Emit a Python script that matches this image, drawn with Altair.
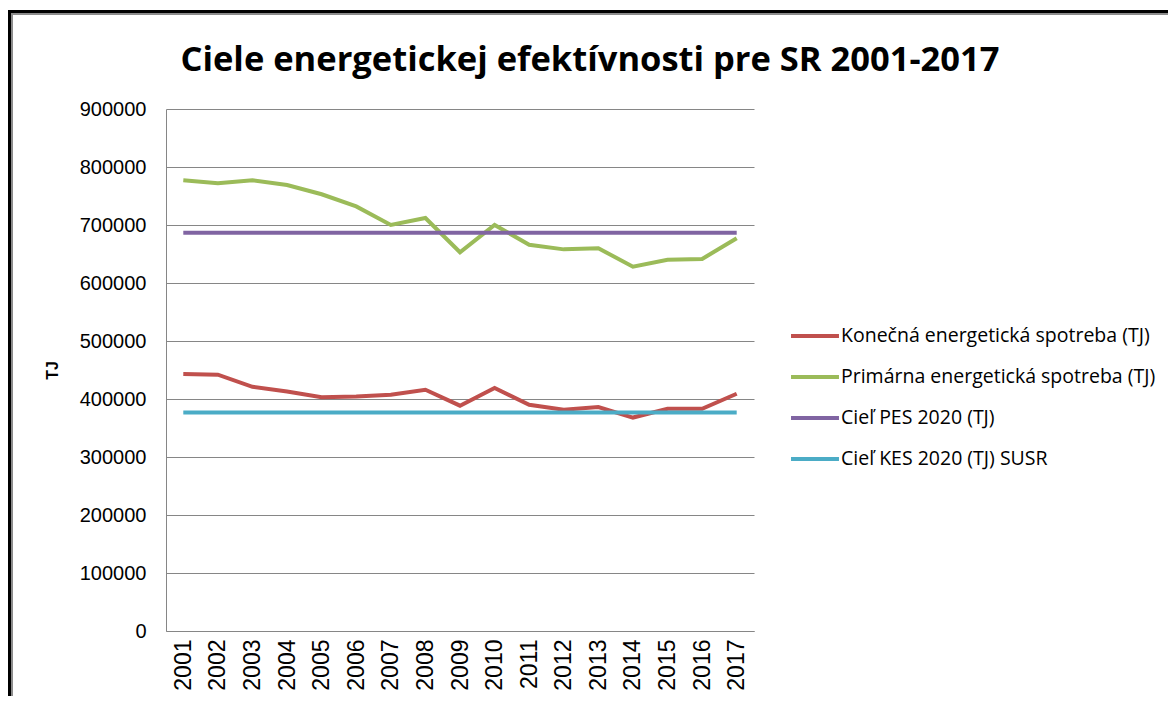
import altair as alt
import pandas as pd

years = [str(y) for y in range(2001, 2018)]
kes = [443000, 442000, 421000, 413000, 403000, 404500, 407500, 416000, 388500,
       419000, 390000, 381500, 386000, 368000, 383000, 383000, 409000]
pes = [777000, 772000, 777000, 769000, 753000, 732000, 700000, 712000, 653000,
       700000, 666000, 658000, 660000, 628000, 640000, 641500, 677000]
pes_target = 686600
kes_target = 376800

series_names = [
    "Konečná energetická spotreba (TJ)",
    "Primárna energetická spotreba (TJ)",
    "Cieľ PES 2020 (TJ)",
    "Cieľ KES 2020 (TJ) SUSR",
]
series_colors = ["#C0504D", "#9BBB59", "#8064A2", "#4BACC6"]
title_text = "Ciele energetickej efektívnosti pre SR 2001-2017"

rows = []
for i, y in enumerate(years):
    rows.append({"rok": y, "séria": series_names[0], "TJ": kes[i]})
    rows.append({"rok": y, "séria": series_names[1], "TJ": pes[i]})
    rows.append({"rok": y, "séria": series_names[2], "TJ": pes_target})
    rows.append({"rok": y, "séria": series_names[3], "TJ": kes_target})
df = pd.DataFrame(rows)

lines = alt.Chart(df).mark_line(strokeWidth=4).encode(
    x=alt.X("rok:O", sort=years, title=None,
            axis=alt.Axis(labelAngle=-90, labelFont="Liberation Sans", labelFontSize=23,
                          labelColor="#000000", labelPadding=8, ticks=False,
                          domainColor="#868686", labelBaseline="middle")),
    y=alt.Y("TJ:Q", scale=alt.Scale(domain=[0, 900000]), title="TJ",
            axis=alt.Axis(values=list(range(0, 900001, 100000)), format="d",
                          labelFont="Liberation Sans", labelFontSize=20, labelColor="#000000",
                          labelPadding=20, ticks=False, grid=True, gridColor="#868686",
                          gridWidth=1, domainColor="#868686",
                          titleFont="Liberation Sans", titleFontSize=16, titleFontWeight="bold",
                          titleColor="#000000", titleX=-106, titleY=261, titleAngle=270)),
    color=alt.Color("séria:N", sort=series_names,
                    scale=alt.Scale(domain=series_names, range=series_colors),
                    legend=alt.Legend(title=None, orient="none", legendX=623, legendY=201,
                                      symbolType="stroke", symbolSize=2300, symbolStrokeWidth=4,
                                      labelFont="Open Sans", labelFontSize=19.5, labelColor="#000000",
                                      labelOffset=0, rowPadding=5, padding=0,
                                      labelLimit=400)),
    order=alt.Order("rok:O"),
)

frame_data = alt.Data(values=[{"k": 1}])
frame_outer = alt.Chart(frame_data).mark_rect(fill=None, stroke="#000000", strokeWidth=3).encode(
    x=alt.value(-156.5), x2=alt.value(1100), y=alt.value(-97.5), y2=alt.value(700))
frame_inner = alt.Chart(frame_data).mark_rect(fill=None, stroke="#8c8c8c", strokeWidth=2).encode(
    x=alt.value(-154), x2=alt.value(1100), y=alt.value(-95), y2=alt.value(700))

title_mark = alt.Chart(alt.Data(values=[{"t": title_text}])).mark_text(
    font="Open Sans", fontSize=34.5, fontWeight="bold",
    color="#000000", align="center", baseline="middle",
).encode(text="t:N", x=alt.value(424), y=alt.value(-48))

chart = alt.layer(frame_outer, frame_inner, title_mark, lines).properties(
    width=588, height=522,
    autosize=alt.AutoSizeParams(type="none"),
    padding={"left": 158, "top": 101, "right": 414, "bottom": 65},
).configure(background="#ffffff").configure_view(stroke=None)

chart.save("out.html", embed_options={"renderer": "svg", "actions": False})
